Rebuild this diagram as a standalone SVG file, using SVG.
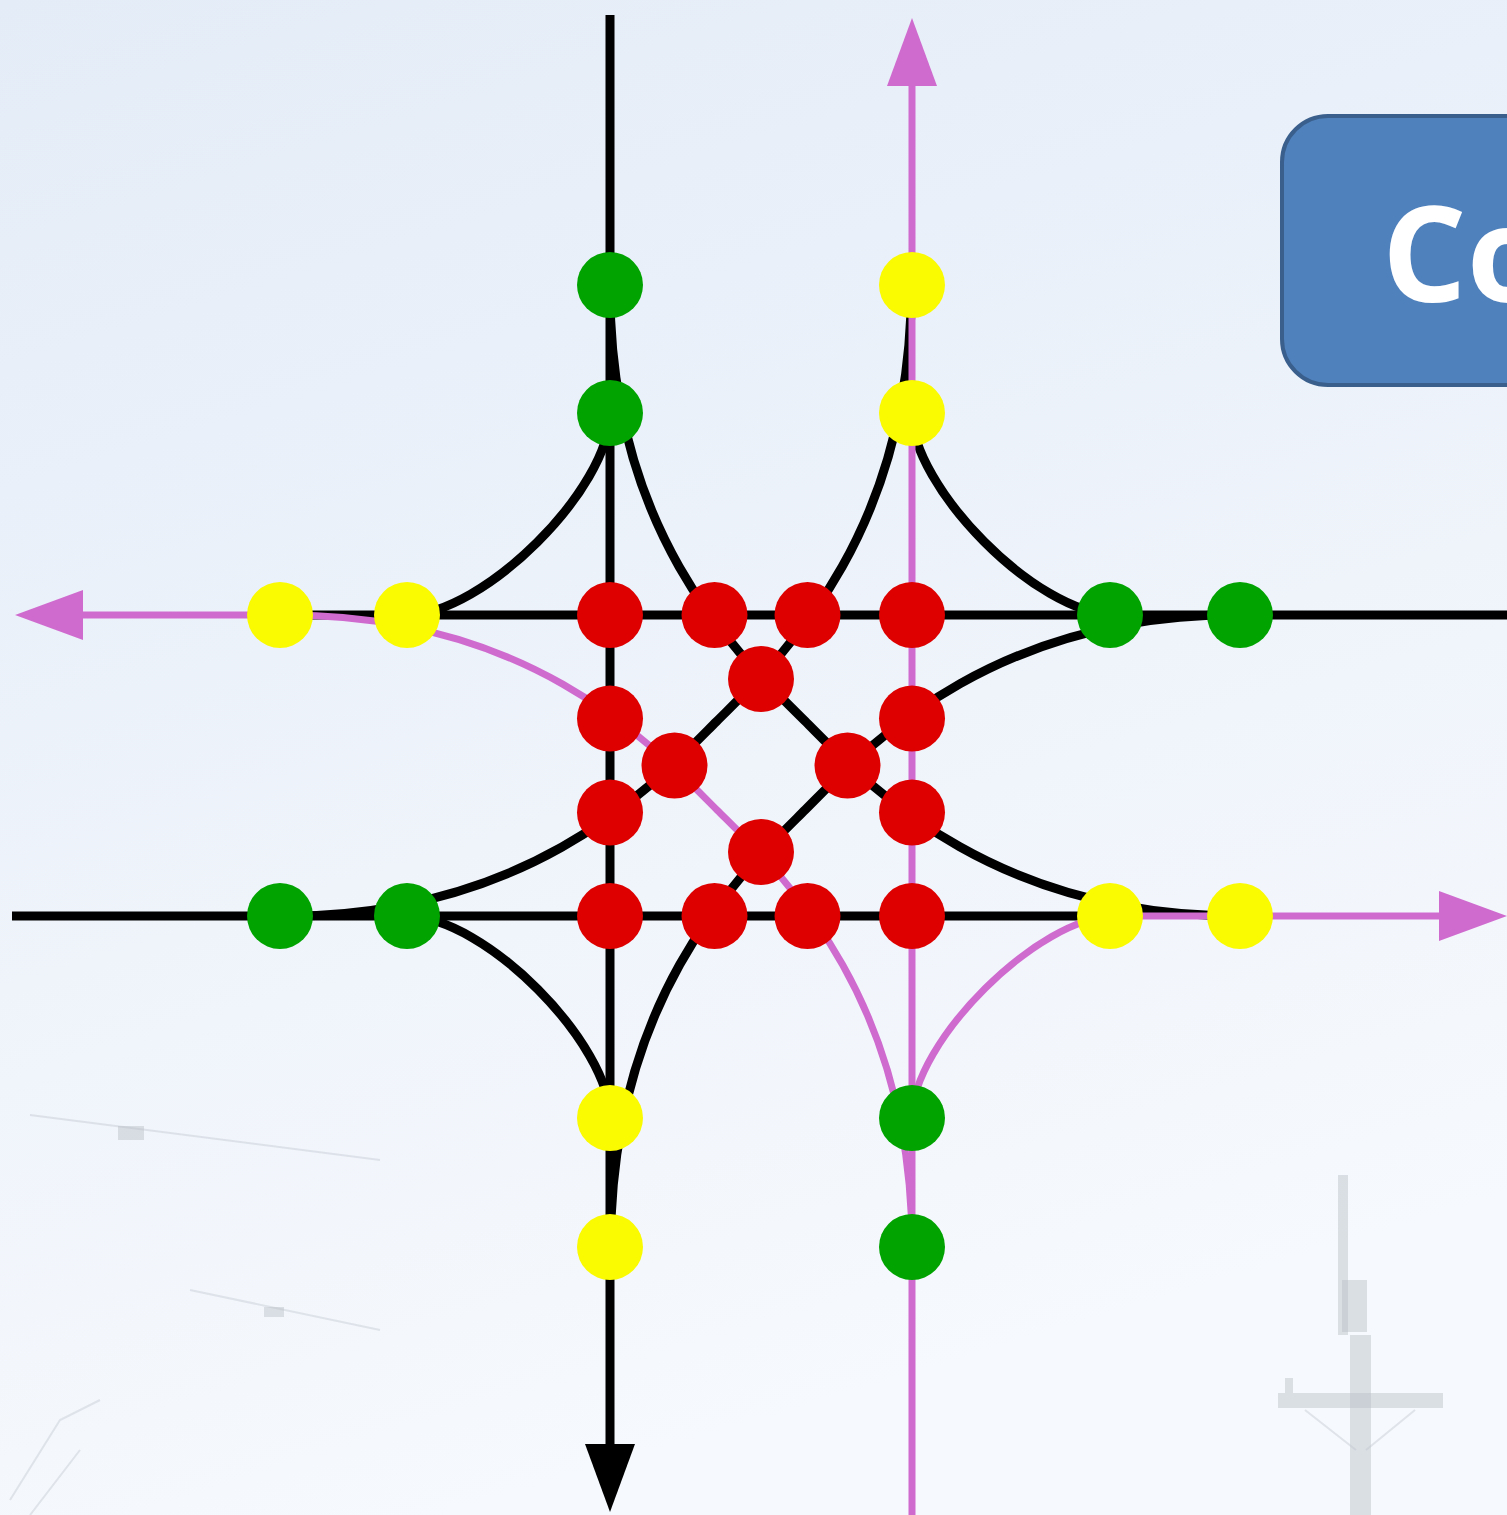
<svg xmlns="http://www.w3.org/2000/svg" width="1507" height="1515" viewBox="0 0 1507 1515">
  <defs>
    <linearGradient id="bg" x1="0" y1="0" x2="0.3" y2="1">
      <stop offset="0" stop-color="#E4ECF7"/>
      <stop offset="0.6" stop-color="#EFF4FB"/>
      <stop offset="1" stop-color="#F6F9FD"/>
    </linearGradient>
    <marker id="arrowBlack" viewBox="0 0 68 50" refX="0" refY="25" markerWidth="68" markerHeight="50" markerUnits="userSpaceOnUse" orient="auto">
      <path d="M0,0 L68,25 L0,50 Z" fill="#000000"/>
    </marker>
    <marker id="arrowPink" viewBox="0 0 68 50" refX="0" refY="25" markerWidth="68" markerHeight="50" markerUnits="userSpaceOnUse" orient="auto">
      <path d="M0,0 L68,25 L0,50 Z" fill="#CF6BCF"/>
    </marker>
  </defs>
  <style>
    .blk { fill: none; stroke: #000000; stroke-width: 9; }
    .pnk { fill: none; stroke: #CF6BCF; stroke-width: 7; }
    .red { fill: #DE0000; }
    .grn { fill: #00A300; }
    .yel { fill: #FAFA00; }
    .wm { fill: #B9BEC6; opacity: 0.45; }
    .wml { fill: none; stroke: #BFC4CC; stroke-width: 2; opacity: 0.4; }
    .title { font-family: "Open Sans", "Liberation Sans", sans-serif; font-weight: bold; font-size: 133px; fill: #FFFFFF; }
  </style>

  <rect x="0" y="0" width="1507" height="1515" fill="url(#bg)"/>

  <g id="background-watermark">
    <rect class="wm" x="1338" y="1175" width="10" height="160"/>
    <rect class="wm" x="1342" y="1280" width="25" height="52"/>
    <rect class="wm" x="1350" y="1335" width="21" height="180"/>
    <rect class="wm" x="1278" y="1393" width="165" height="15"/>
    <rect class="wm" x="1285" y="1378" width="8" height="15"/>
    <path class="wml" d="M1305,1410 L1356,1450 M1415,1410 L1366,1450"/>
    <path class="wml" d="M30,1115 L380,1160 M190,1290 L380,1330"/>
    <rect class="wm" x="118" y="1126" width="26" height="14"/>
    <rect class="wm" x="264" y="1307" width="20" height="10"/>
    <path class="wml" d="M10,1500 L60,1420 L100,1400 M30,1515 L80,1450"/>
  </g>

  <g id="connectors">
    <path id="sb-through" class="blk" d="M610,15 V1444" marker-end="url(#arrowBlack)"/>
    <path id="wb-through" class="blk" d="M1507,615 H280"/>
    <path id="eb-through" class="blk" d="M12,916 H1110"/>
    <path id="sb-left" class="blk" d="M610,290 C610,540 745,661 805,721 C865,781 986,916 1240,916"/>
    <path id="wb-left" class="blk" d="M1240,614.5 C986.5,614.5 865.5,749.5 805.5,809.5 C745.5,869.5 610.5,990.5 610.5,1247"/>
    <path id="eb-left" class="blk" d="M280,916.5 C535.5,916.5 656.5,781.5 716.5,721.5 C776.5,661.5 911.5,540.5 911.5,285"/>
    <path id="sb-right" class="blk" d="M610,413 C610,489 483,615 407,615"/>
    <path id="wb-right" class="blk" d="M1113.5,614.5 C1037.5,614.5 911.5,487.5 911.5,411.5"/>
    <path id="eb-right" class="blk" d="M408.5,916.5 C484.5,916.5 610.5,1043.5 610.5,1119.5"/>
    <path id="nb-through" class="pnk" d="M912,1515 V86" marker-end="url(#arrowPink)"/>
    <path id="nb-left" class="pnk" d="M912,1247 C912,991 777,870 717,810 C657,750 536,615 286,615 H83" marker-end="url(#arrowPink)"/>
    <path id="nb-right" class="pnk" d="M912,1118 C912,1042 1039,916 1115,916 H1439" marker-end="url(#arrowPink)"/>
  </g>

  <g id="crossing-points">
    <g id="c1"><circle class="red" cx="610" cy="615" r="33"/></g>
    <g id="c2"><circle class="red" cx="714.5" cy="615" r="33"/></g>
    <g id="c3"><circle class="red" cx="807.5" cy="615" r="33"/></g>
    <g id="c4"><circle class="red" cx="912" cy="615" r="33"/></g>
    <g id="c5"><circle class="red" cx="610" cy="916" r="33"/></g>
    <g id="c6"><circle class="red" cx="714.5" cy="916" r="33"/></g>
    <g id="c7"><circle class="red" cx="807.5" cy="916" r="33"/></g>
    <g id="c8"><circle class="red" cx="912" cy="916" r="33"/></g>
    <g id="c9"><circle class="red" cx="610" cy="718.5" r="33"/></g>
    <g id="c10"><circle class="red" cx="610" cy="812.5" r="33"/></g>
    <g id="c11"><circle class="red" cx="912" cy="718.5" r="33"/></g>
    <g id="c12"><circle class="red" cx="912" cy="812.5" r="33"/></g>
    <g id="c13"><circle class="red" cx="761" cy="679" r="33"/></g>
    <g id="c14"><circle class="red" cx="761" cy="852" r="33"/></g>
    <g id="c15"><circle class="red" cx="674.5" cy="765.5" r="33"/></g>
    <g id="c16"><circle class="red" cx="847.5" cy="765.5" r="33"/></g>
  </g>

  <g id="diverging-points">
    <g id="d1"><circle class="grn" cx="610" cy="285" r="33"/></g>
    <g id="d2"><circle class="grn" cx="610" cy="413" r="33"/></g>
    <g id="d3"><circle class="grn" cx="1110" cy="615" r="33"/></g>
    <g id="d4"><circle class="grn" cx="1240" cy="615" r="33"/></g>
    <g id="d5"><circle class="grn" cx="280" cy="916" r="33"/></g>
    <g id="d6"><circle class="grn" cx="407" cy="916" r="33"/></g>
    <g id="d7"><circle class="grn" cx="912" cy="1118" r="33"/></g>
    <g id="d8"><circle class="grn" cx="912" cy="1247" r="33"/></g>
  </g>

  <g id="merging-points">
    <g id="m1"><circle class="yel" cx="912" cy="285" r="33"/></g>
    <g id="m2"><circle class="yel" cx="912" cy="413" r="33"/></g>
    <g id="m3"><circle class="yel" cx="280" cy="615" r="33"/></g>
    <g id="m4"><circle class="yel" cx="407" cy="615" r="33"/></g>
    <g id="m5"><circle class="yel" cx="1110" cy="916" r="33"/></g>
    <g id="m6"><circle class="yel" cx="1240" cy="916" r="33"/></g>
    <g id="m7"><circle class="yel" cx="610" cy="1118" r="33"/></g>
    <g id="m8"><circle class="yel" cx="610" cy="1247" r="33"/></g>
  </g>

  <g id="title-box">
    <rect x="1282" y="116" width="300" height="269" rx="46" ry="46" fill="#4F81BD" stroke="#3A5F8C" stroke-width="4"/>
    <text class="title" x="1382" y="302">Co</text>
  </g>
</svg>
